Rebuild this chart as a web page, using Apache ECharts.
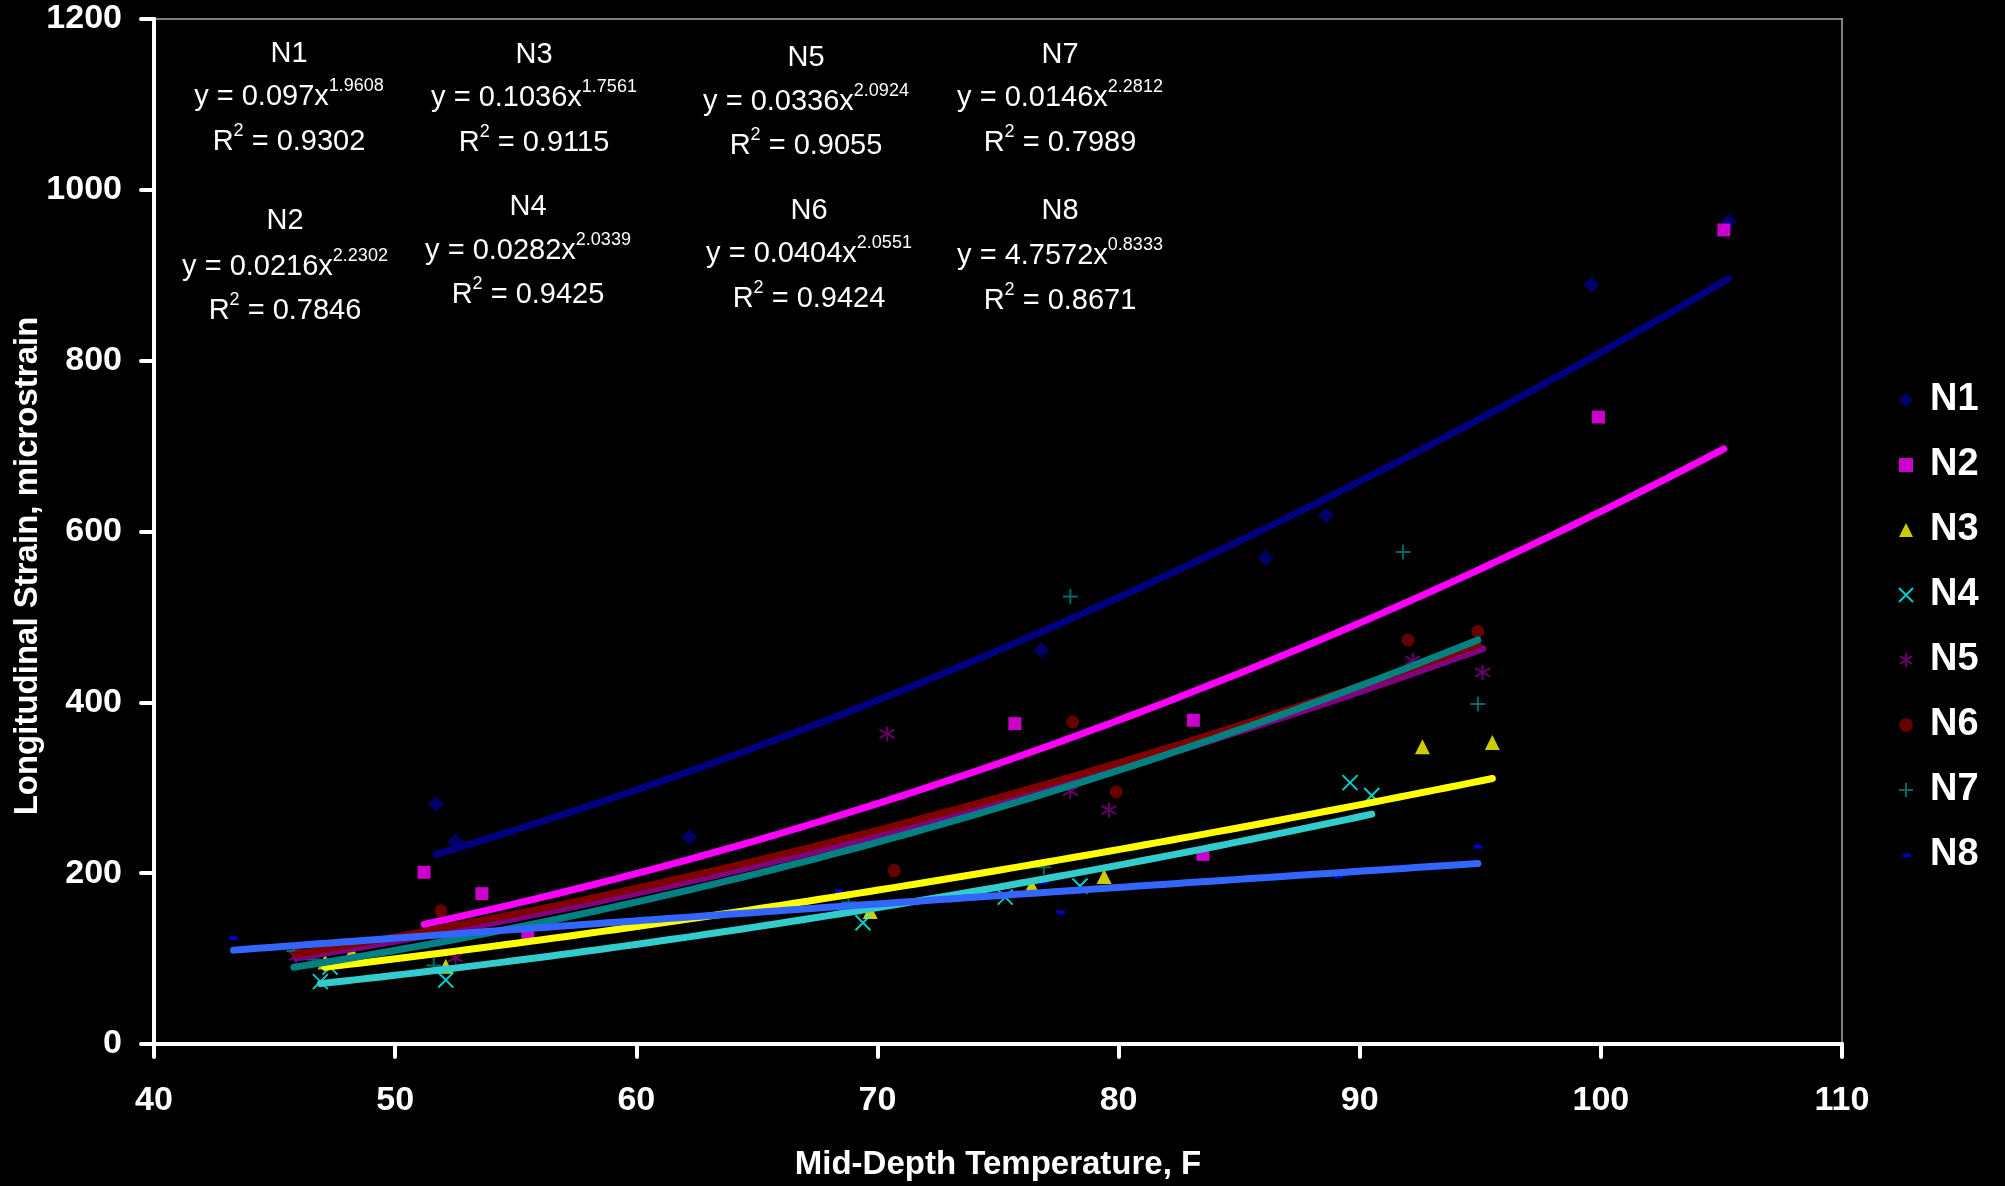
<!DOCTYPE html>
<html><head><meta charset="utf-8">
<script src="https://cdn.jsdelivr.net/npm/echarts@6/dist/echarts.min.js"></script>
<style>html,body{margin:0;padding:0;background:#000;}#chart{width:2005px;height:1186px;}</style>
</head><body><div id="chart"></div>
<script>
// ---------- data ----------
const seriesNames = ['N1', 'N2', 'N3', 'N4', 'N5', 'N6', 'N7', 'N8'];

const n1X = [51.7, 52.5, 62.2, 76.8, 86.1, 88.6, 99.6, 105.3];
const n1Y = [281, 237, 242, 461, 569, 619, 889, 963];
const n2X = [51.2, 53.6, 55.5, 75.7, 83.1, 83.5, 99.9, 105.1];
const n2Y = [201, 176, 125, 375, 379, 222, 734, 953];
const n3X = [47.1, 48.2, 52.1, 69.7, 76.4, 79.4, 92.6, 95.5];
const n3Y = [96, 107, 91, 155, 185, 196, 348, 353];
const n4X = [46.9, 47.3, 52.1, 69.4, 75.3, 78.4, 89.6, 90.5];
const n4Y = [73, 90, 75, 142, 172, 185, 306, 291];
const n5X = [45.9, 52.5, 70.4, 78.0, 79.6, 92.2, 95.1];
const n5Y = [103, 101, 363, 296, 274, 449, 435];
const n6X = [45.9, 51.9, 70.7, 78.1, 79.9, 92.0, 94.9];
const n6Y = [108, 156, 203, 377, 295, 473, 483];
const n7X = [45.8, 46.6, 51.6, 68.8, 76.9, 78.0, 91.8, 94.9];
const n7Y = [109, 99, 92, 166, 207, 524, 576, 398];
const n8X = [43.3, 46.2, 51.7, 68.4, 76.9, 77.6, 89.1, 94.9];
const n8Y = [124, 115, 116, 179, 189, 154, 196, 231];

// power trendlines printed on the chart: y = a * x^b
const trendCoef = [0.097, 0.0216, 0.1036, 0.0282, 0.0336, 0.0404, 0.0146, 4.7572];
const trendExp  = [1.9608, 2.2302, 1.7561, 2.0339, 2.0924, 2.0551, 2.2812, 0.8333];
const trendR2   = [0.9302, 0.7846, 0.9115, 0.9425, 0.9055, 0.9424, 0.7989, 0.8671];

const xTicks = [40, 50, 60, 70, 80, 90, 100, 110];
const yTicks = [0, 200, 400, 600, 800, 1000, 1200];

// ---------- styling ----------
const FONT = '"Liberation Sans", Arial, sans-serif';
const allX = [n1X, n2X, n3X, n4X, n5X, n6X, n7X, n8X];
const allY = [n1Y, n2Y, n3Y, n4Y, n5Y, n6Y, n7Y, n8Y];

const markerDefs = [
  { symbol: 'diamond', size: 16, fill: '#000080' },
  { symbol: 'rect', size: 13, fill: '#FF00FF' },
  { symbol: 'triangle', size: 15, fill: '#FFFF00' },
  { symbol: 'path://M0,0L10,10M10,0L0,10', size: 15, stroke: '#00FFFF' },
  { symbol: 'path://M5,0L5,10M0.7,2.2L9.3,7.8M9.3,2.2L0.7,7.8', size: 15, stroke: '#800080' },
  { symbol: 'circle', size: 13, fill: '#800000' },
  { symbol: 'path://M5,0L5,10M0,5L10,5', size: 15, stroke: '#008080' },
  { symbol: 'rect', size: [8, 4], fill: '#0000FF' }
];
const lineColors = ['#000080', '#FF00FF', '#FFFF00', '#33CCCC', '#800080', '#800000', '#008080', '#3366FF'];

// label layout (centres of the three text lines of each equation block)
const eqLayout = [
  { x: 289, y: [54, 97, 142] },
  { x: 285, y: [221, 267, 311] },
  { x: 534, y: [55, 98, 143] },
  { x: 528, y: [207, 251, 295] },
  { x: 806, y: [58, 102, 146] },
  { x: 809, y: [211, 254, 299] },
  { x: 1060, y: [55, 98, 143] },
  { x: 1060, y: [211, 256, 301] }
];

function trendPoints(xs, a, b) {
  const lo = Math.min(...xs), hi = Math.max(...xs);
  const pts = [];
  for (let x = lo; x < hi; x += 0.5) pts.push([x, a * Math.pow(x, b)]);
  pts.push([hi, a * Math.pow(hi, b)]);
  return pts;
}

const series = [];
seriesNames.forEach((name, i) => {
  const m = markerDefs[i];
  const itemStyle = m.stroke
    ? { color: 'rgba(0,0,0,0)', borderColor: m.stroke, borderWidth: 2 }
    : { color: m.fill, borderWidth: 0 };
  series.push({
    name: name,
    type: 'scatter',
    z: 2,
    symbol: m.symbol,
    symbolSize: m.size,
    itemStyle: itemStyle,
    data: allX[i].map((x, k) => [x, allY[i][k]])
  });
});
seriesNames.forEach((name, i) => {
  series.push({
    name: name + ' trend',
    type: 'line',
    z: 3,
    showSymbol: false,
    symbol: 'none',
    smooth: false,
    lineStyle: { color: lineColors[i], width: 7, cap: 'round', join: 'round' },
    itemStyle: { color: lineColors[i] },
    data: trendPoints(allX[i], trendCoef[i], trendExp[i])
  });
});

const rich = {
  m: { fill: '#fff', fontSize: 29, fontFamily: FONT, lineHeight: 40 },
  s: { fill: '#fff', fontSize: 18, fontFamily: FONT, lineHeight: 18, verticalAlign: 'top' }
};
const graphics = [];
seriesNames.forEach((name, i) => {
  const L = eqLayout[i];
  const lines = [
    '{m|' + name + '}',
    '{m|y = ' + trendCoef[i] + 'x}{s|' + trendExp[i] + '}',
    '{m|R}{s|2}{m| = ' + trendR2[i] + '}'
  ];
  lines.forEach((t, k) => {
    graphics.push({
      type: 'text', x: L.x, y: L.y[k], z: 10,
      style: { text: t, rich: rich, fill: '#fff', font: '29px ' + FONT, align: 'center', verticalAlign: 'middle' }
    });
  });
});
graphics.push({
  type: 'text', x: 28, y: 566, rotation: Math.PI / 2, z: 10,
  style: { text: 'Longitudinal Strain, microstrain', fill: '#fff', font: 'bold 33px ' + FONT, align: 'center', verticalAlign: 'middle' }
});

const legendData = seriesNames.map((n, i) => i === 7
  ? { name: n, icon: 'path://M0,0h0.01v0.01h-0.01Z M10,10h0.01v0.01h-0.01Z M3,4h5.5v2.6h-5.5Z' }
  : { name: n });

const option = {
  backgroundColor: '#000',
  animation: false,
  grid: { left: 154, right: 163, top: 19, bottom: 142, show: true, borderColor: '#808080', borderWidth: 2, backgroundColor: 'transparent' },
  xAxis: {
    type: 'value', min: xTicks[0], max: xTicks[xTicks.length - 1], interval: 10,
    name: 'Mid-Depth Temperature, F', nameLocation: 'middle', nameGap: 104,
    nameTextStyle: { color: '#fff', fontSize: 33, fontWeight: 'bold', fontFamily: FONT },
    axisLine: { lineStyle: { color: '#fff', width: 4 } },
    axisTick: { inside: false, length: 13, lineStyle: { color: '#fff', width: 4, cap: 'round' } },
    axisLabel: { color: '#fff', fontSize: 34, fontWeight: 'bold', fontFamily: FONT, margin: 40 },
    splitLine: { show: false }
  },
  yAxis: {
    type: 'value', min: yTicks[0], max: yTicks[yTicks.length - 1], interval: 200,
    axisLine: { lineStyle: { color: '#fff', width: 4 } },
    axisTick: { inside: false, length: 13, lineStyle: { color: '#fff', width: 4, cap: 'round' } },
    axisLabel: { color: '#fff', fontSize: 34, fontWeight: 'bold', fontFamily: FONT, margin: 32, formatter: v => String(v) },
    splitLine: { show: false }
  },
  legend: {
    orient: 'vertical', left: 1898, top: 380, padding: 0,
    itemWidth: 14, itemHeight: 14, itemGap: 25,
    textStyle: { color: '#fff', fontSize: 38, fontWeight: 'bold', fontFamily: FONT, lineHeight: 40, padding: [0, 0, 0, 12] },
    data: legendData
  },
  graphic: graphics,
  series: series
};

const chart = echarts.init(document.getElementById('chart'), null, { renderer: 'canvas' });
chart.setOption(option);
</script>
</body></html>
